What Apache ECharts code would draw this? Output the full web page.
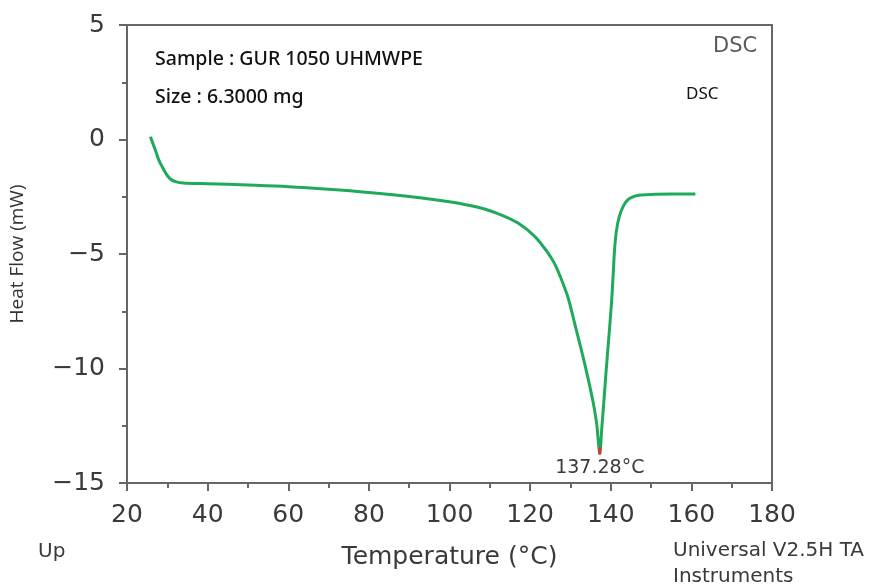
<!DOCTYPE html>
<html>
<head>
<meta charset="utf-8">
<script src="https://cdn.jsdelivr.net/npm/echarts@6/dist/echarts.min.js"></script>
<style>
html, body { margin: 0; padding: 0; background: #fff; }
#main { width: 872px; height: 588px; }
</style>
</head>
<body>
<div id="main"></div>
<script>
// DSC curve: [temperature °C, heat flow mW]
var temps = [25.8, 27.0, 27.9, 29.0, 29.9, 31.0, 32.0, 34.0, 40, 50, 60, 70, 80, 90, 100, 108, 112.9, 117.1,
    121.2, 124.5, 126.0, 127.4, 129.4, 131.0, 132.7, 134.2, 135.6, 136.5, 137.28,
    137.8, 138.4, 138.9, 139.5, 140.2, 140.6, 140.95, 141.4, 142.1, 143.0, 144.2, 145.8, 147.5, 155, 161];
var heatFlow = [0.12, -0.45, -0.90, -1.28, -1.55, -1.76, -1.84, -1.90, -1.93, -1.99, -2.06, -2.17, -2.31, -2.49, -2.72, -3.00, -3.30, -3.66,
    -4.24, -4.97, -5.40, -5.95, -6.90, -8.00, -9.19, -10.30, -11.45, -12.40, -13.70,
    -12.55, -11.20, -10.00, -8.70, -7.10, -5.90, -4.80, -4.00, -3.37, -2.95, -2.64, -2.48, -2.42, -2.38, -2.38];
var peakTemp = 137.28;
var peakTip = [-13.45, -13.75];

var curve = temps.map(function (t, i) { return [t, heatFlow[i]]; });

var myChart = echarts.init(document.getElementById('main'));

var axisGray = '#666';
var labelGray = '#3a3a3a';

var option = {
    animation: false,
    grid: {
        left: 123,
        right: 100,
        top: 25,
        bottom: 105,
        show: true,
        borderColor: axisGray,
        borderWidth: 2
    },
    xAxis: {
        type: 'value',
        min: 20,
        max: 180,
        interval: 20,
        name: 'Temperature (°C)',
        nameLocation: 'middle',
        nameGap: 62,
        nameTextStyle: { fontFamily: 'DejaVu Sans', fontSize: 25, color: labelGray },
        axisLine: { onZero: false, lineStyle: { color: axisGray, width: 2 } },
        axisTick: { length: 8, lineStyle: { color: axisGray, width: 2 } },
        minorTick: { show: true, splitNumber: 2, length: 5, lineStyle: { color: axisGray, width: 2 } },
        splitLine: { show: false },
        axisLabel: { fontFamily: 'DejaVu Sans', fontSize: 25, color: labelGray, margin: 20 }
    },
    yAxis: {
        type: 'value',
        min: -15,
        max: 5,
        interval: 5,
        name: 'Heat Flow (mW)',
        nameLocation: 'middle',
        nameGap: 100,
        nameRotate: 90,
        nameTextStyle: { fontFamily: 'Open Sans', fontWeight: 400, fontSize: 19, color: '#333' },
        axisLine: { onZero: false, lineStyle: { color: axisGray, width: 2 } },
        axisTick: { length: 8, lineStyle: { color: axisGray, width: 2 } },
        minorTick: { show: true, splitNumber: 2, length: 5, lineStyle: { color: axisGray, width: 2 } },
        splitLine: { show: false },
        axisLabel: {
            fontFamily: 'DejaVu Sans', fontSize: 25, color: labelGray, margin: 22,
            formatter: function (v) { return v < 0 ? '\u2212' + Math.abs(v) : String(v); }
        }
    },
    series: [{
        type: 'line',
        data: curve,
        showSymbol: false,
        smooth: 0.3,
        lineStyle: { color: '#1faa5a', width: 3 },
        markPoint: {
            symbol: 'circle',
            symbolSize: 0,
            data: [{ coord: [peakTemp, peakTip[1]] }],
            label: {
                show: true,
                formatter: '137.28°C',
                position: 'bottom',
                distance: 4,
                fontFamily: 'DejaVu Sans',
                fontSize: 19,
                color: labelGray
            }
        }
    }, {
        type: 'line',
        data: [[peakTemp, peakTip[0]], [peakTemp, peakTip[1]]],
        showSymbol: false,
        lineStyle: { color: '#e53030', width: 3 },
        z: 3
    }],
    graphic: [
        { type: 'text', left: 155, top: 49, style: { text: 'Sample : GUR 1050 UHMWPE', font: '500 19.5px "Noto Sans"', fill: '#111' } },
        { type: 'text', left: 155, top: 87, style: { text: 'Size : 6.3000 mg', font: '500 19.5px "Noto Sans"', fill: '#111' } },
        { type: 'text', left: 713, top: 36, style: { text: 'DSC', font: '21px "DejaVu Sans"', fill: '#5a5a5a' } },
        { type: 'text', left: 686, top: 86, style: { text: 'DSC', font: '17px "Noto Sans"', fill: '#111' } },
        { type: 'text', left: 38, top: 542, style: { text: 'Up', font: '20px "DejaVu Sans"', fill: labelGray } },
        { type: 'text', left: 673, top: 541, style: { text: 'Universal V2.5H TA', font: '20px "DejaVu Sans"', fill: labelGray } },
        { type: 'text', left: 673, top: 567, style: { text: 'Instruments', font: '20px "DejaVu Sans"', fill: labelGray } }
    ]
};

myChart.setOption(option);

window.addEventListener('resize', function () {
    myChart.resize();
});
</script>
</body>
</html>
